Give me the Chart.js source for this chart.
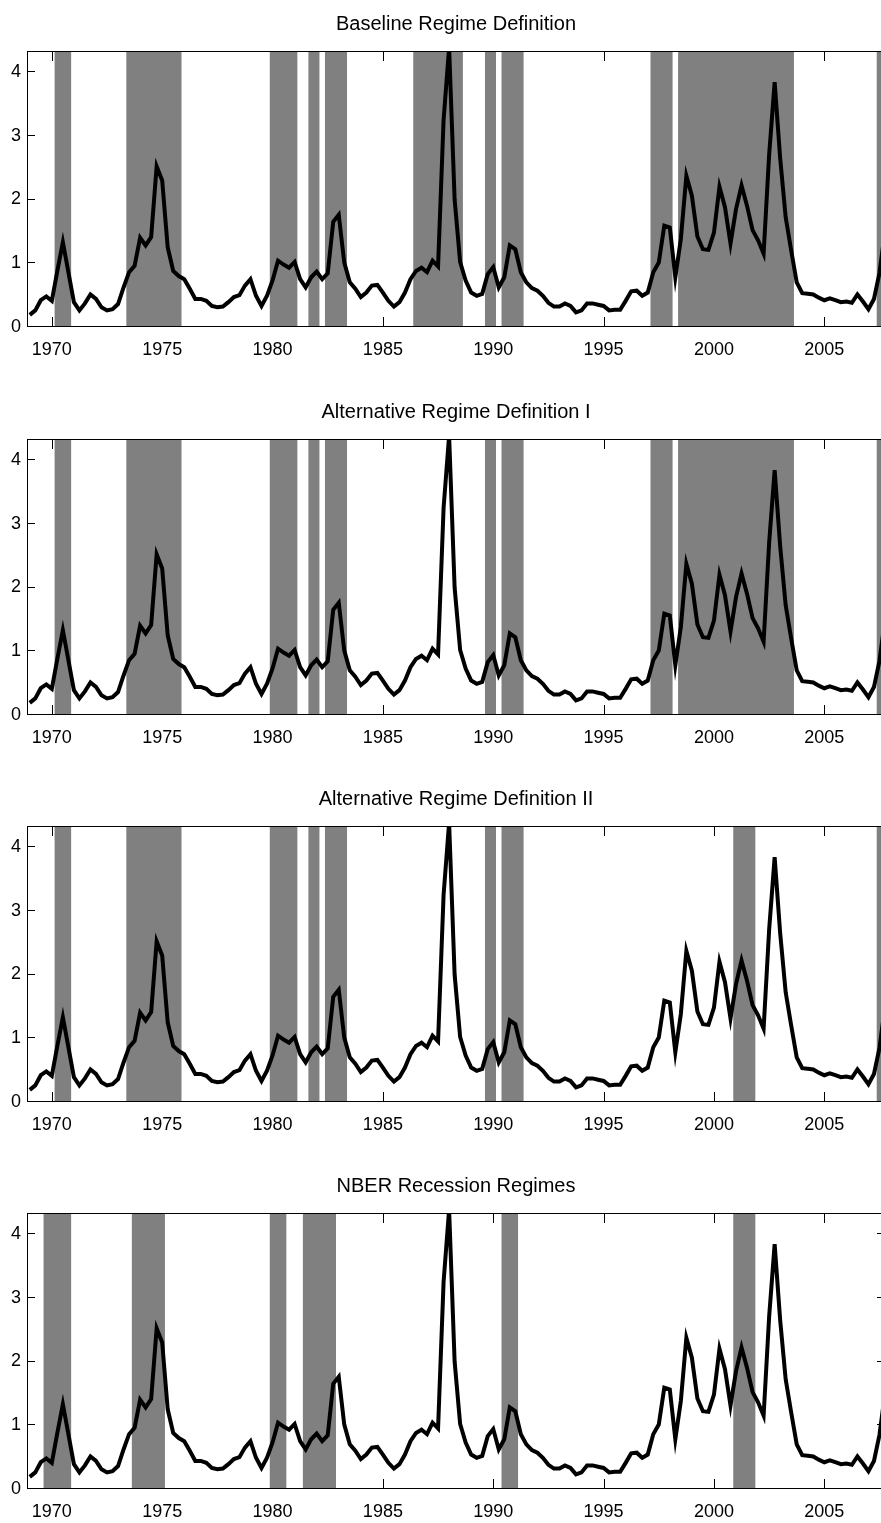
<!DOCTYPE html>
<html>
<head>
<meta charset="utf-8">
<script src="https://cdn.jsdelivr.net/npm/chart.js@4.4.1/dist/chart.umd.min.js"></script>
<style>
  html, body { margin: 0; padding: 0; background: #fff; overflow: hidden; }
  .panel { position: absolute; left: 0; width: 912px; height: 387px; }
</style>
</head>
<body>
<div class="panel" style="top:0px"><canvas id="p1" width="912" height="387"></canvas></div>
<div class="panel" style="top:388px"><canvas id="p2" width="912" height="387"></canvas></div>
<div class="panel" style="top:775px"><canvas id="p3" width="912" height="387"></canvas></div>
<div class="panel" style="top:1162px"><canvas id="p4" width="912" height="387"></canvas></div>
<script>
// quarterly series, 1969Q1 .. 2007Q4 (8 quarters per row)
var startYear = 1969;
var series = [
  0.19, 0.26, 0.42, 0.48, 0.41, 0.88, 1.33, 0.86,
  0.39, 0.26, 0.37, 0.51, 0.44, 0.31, 0.26, 0.28,
  0.36, 0.62, 0.86, 0.96, 1.40, 1.28, 1.41, 2.52,
  2.30, 1.25, 0.88, 0.80, 0.75, 0.60, 0.44, 0.44,
  0.41, 0.33, 0.31, 0.32, 0.39, 0.47, 0.50, 0.65,
  0.75, 0.49, 0.33, 0.49, 0.73, 1.04, 0.98, 0.93,
  1.02, 0.75, 0.62, 0.78, 0.87, 0.75, 0.84, 1.65,
  1.76, 1.01, 0.70, 0.60, 0.47, 0.54, 0.65, 0.66,
  0.54, 0.41, 0.32, 0.39, 0.54, 0.75, 0.88, 0.93,
  0.86, 1.04, 0.95, 3.25, 4.38, 2.00, 1.02, 0.73,
  0.54, 0.49, 0.52, 0.83, 0.94, 0.62, 0.78, 1.28,
  1.22, 0.86, 0.70, 0.61, 0.57, 0.49, 0.38, 0.32,
  0.32, 0.37, 0.33, 0.23, 0.26, 0.37, 0.37, 0.35,
  0.33, 0.26, 0.27, 0.27, 0.41, 0.56, 0.57, 0.49,
  0.54, 0.86, 1.01, 1.59, 1.56, 0.78, 1.38, 2.37,
  2.06, 1.42, 1.22, 1.21, 1.48, 2.20, 1.88, 1.31,
  1.85, 2.22, 1.90, 1.52, 1.36, 1.15, 2.70, 3.84,
  2.65, 1.72, 1.20, 0.70, 0.53, 0.52, 0.51, 0.46,
  0.42, 0.45, 0.42, 0.39, 0.40, 0.38, 0.51, 0.40,
  0.28, 0.44, 0.85, 1.50
];

// shaded regimes [from, to] in years
var baselineRegimes = [[1970.125, 1970.875], [1973.375, 1975.875], [1979.875, 1981.125],
  [1981.625, 1982.125], [1982.375, 1983.375], [1986.375, 1988.625], [1989.625, 1990.125],
  [1990.375, 1991.375], [1997.125, 1998.125], [1998.375, 2003.625], [2007.375, 2007.75]];
var altRegimesI = [[1970.125, 1970.875], [1973.375, 1975.875], [1979.875, 1981.125],
  [1981.625, 1982.125], [1982.375, 1983.375], [1989.625, 1990.125],
  [1990.375, 1991.375], [1997.125, 1998.125], [1998.375, 2003.625], [2007.375, 2007.75]];
var altRegimesII = [[1970.125, 1970.875], [1973.375, 1975.875], [1979.875, 1981.125],
  [1981.625, 1982.125], [1982.375, 1983.375], [1989.625, 1990.125],
  [1990.375, 1991.375], [2000.875, 2001.875], [2007.375, 2007.75]];
var nberRecessions = [[1969.625, 1970.875], [1973.625, 1975.125], [1979.875, 1980.625],
  [1981.375, 1982.875], [1990.375, 1991.125], [2000.875, 2001.875]];

var xTicks = [1970, 1975, 1980, 1985, 1990, 1995, 2000, 2005];
var yTicks = [0, 1, 2, 3, 4];

Chart.defaults.font.family = "'Liberation Sans', Arial, Helvetica, sans-serif";
Chart.defaults.color = '#000';

var points = series.map(function (v, i) { return {x: startYear + i / 4, y: v}; });

function drawPanel(id, title, bands) {
  var ctx = document.getElementById(id).getContext('2d');
  return new Chart(ctx, {
    type: 'line',
    data: {
      datasets: [{
        data: points,
        borderColor: '#000',
        borderWidth: 4,
        pointRadius: 0,
        tension: 0,
        clip: 0
      }]
    },
    options: {
      responsive: false,
      animation: false,
      events: [],
      layout: { padding: { top: 0, left: 0, right: 27, bottom: 0 } },
      plugins: {
        legend: { display: false },
        tooltip: { enabled: false },
        title: {
          display: true,
          text: title,
          color: '#000',
          fullSize: false, // centre over the plot box, not the canvas
          font: { size: 20, weight: 'normal' },
          padding: { top: 12, bottom: 15 }
        }
      },
      scales: {
        x: {
          type: 'linear',
          min: 1968.875,
          max: 2007.75,
          afterFit: function (s) { s.height = 60; },
          afterBuildTicks: function (s) { s.ticks = xTicks.map(function (v) { return {value: v}; }); },
          grid: { display: false, drawTicks: false },
          border: { display: false },
          ticks: { font: { size: 18 }, padding: 12, maxRotation: 0, callback: function (v) { return String(v); } }
        },
        y: {
          min: 0,
          max: 4.33,
          afterFit: function (s) { s.width = 27; },
          afterBuildTicks: function (s) { s.ticks = yTicks.map(function (v) { return {value: v}; }); },
          grid: { display: false, drawTicks: false },
          border: { display: false },
          ticks: { font: { size: 18 }, padding: 6, callback: function (v) { return String(v); } }
        }
      }
    },
    plugins: [{
      id: 'regimes',
      beforeDatasetsDraw: function (chart) {
        var c = chart.ctx, a = chart.chartArea, x = chart.scales.x, y = chart.scales.y;
        c.save();
        // inward tick marks on all four sides
        c.strokeStyle = '#000';
        c.lineWidth = 1;
        c.beginPath();
        xTicks.forEach(function (v) {
          var px = Math.round(x.getPixelForValue(v)) + 0.5;
          c.moveTo(px, a.bottom); c.lineTo(px, a.bottom - 10);
          c.moveTo(px, a.top); c.lineTo(px, a.top + 10);
        });
        yTicks.forEach(function (v) {
          var py = Math.round(y.getPixelForValue(v)) - 0.5;
          c.moveTo(a.left, py); c.lineTo(a.left + 8, py);
          c.moveTo(a.right, py); c.lineTo(a.right - 8, py);
        });
        c.stroke();
        // regime shading
        c.fillStyle = '#808080';
        bands.forEach(function (b) {
          var x0 = Math.max(x.getPixelForValue(b[0]), a.left);
          var x1 = Math.min(x.getPixelForValue(b[1]), a.right);
          c.fillRect(x0, a.top, x1 - x0, a.bottom - a.top);
        });
        // box
        c.strokeRect(Math.round(a.left) + 0.5, Math.round(a.top) + 0.5,
          Math.round(a.right - a.left) - 1, Math.round(a.bottom - a.top) - 1);
        c.restore();
      }
    }]
  });
}

drawPanel('p1', 'Baseline Regime Definition', baselineRegimes);
drawPanel('p2', 'Alternative Regime Definition I', altRegimesI);
drawPanel('p3', 'Alternative Regime Definition II', altRegimesII);
drawPanel('p4', 'NBER Recession Regimes', nberRecessions);
</script>
</body>
</html>
